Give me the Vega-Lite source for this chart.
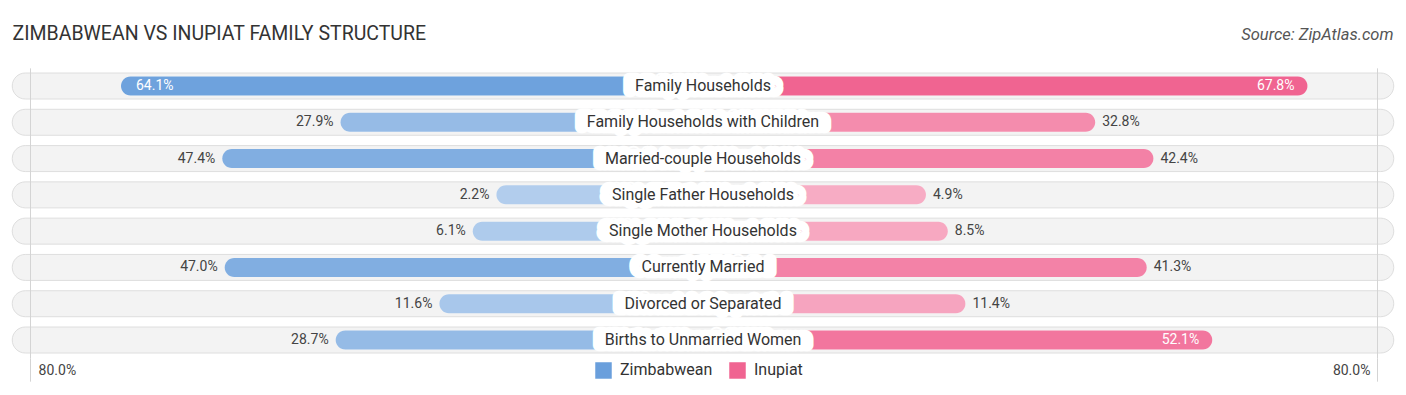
{
  "$schema": "https://vega.github.io/schema/vega-lite/v6.json",
  "width": 1406,
  "height": 290.29,
  "autosize": {"type": "none"},
  "padding": {"left": 0, "right": 0, "top": 67.86, "bottom": 36.85},
  "background": "white",
  "config": {"view": {"stroke": null}, "font": "Roboto"},
  "data": {
    "values": [
      {"cat": "Family Households", "group": "Zimbabwean", "value": 0.641},
      {"cat": "Family Households", "group": "Inupiat", "value": 0.678},
      {"cat": "Family Households with Children", "group": "Zimbabwean", "value": 0.279},
      {"cat": "Family Households with Children", "group": "Inupiat", "value": 0.328},
      {"cat": "Married-couple Households", "group": "Zimbabwean", "value": 0.474},
      {"cat": "Married-couple Households", "group": "Inupiat", "value": 0.424},
      {"cat": "Single Father Households", "group": "Zimbabwean", "value": 0.022},
      {"cat": "Single Father Households", "group": "Inupiat", "value": 0.049},
      {"cat": "Single Mother Households", "group": "Zimbabwean", "value": 0.061},
      {"cat": "Single Mother Households", "group": "Inupiat", "value": 0.085},
      {"cat": "Currently Married", "group": "Zimbabwean", "value": 0.47},
      {"cat": "Currently Married", "group": "Inupiat", "value": 0.413},
      {"cat": "Divorced or Separated", "group": "Zimbabwean", "value": 0.116},
      {"cat": "Divorced or Separated", "group": "Inupiat", "value": 0.114},
      {"cat": "Births to Unmarried Women", "group": "Zimbabwean", "value": 0.287},
      {"cat": "Births to Unmarried Women", "group": "Inupiat", "value": 0.521}
    ]
  },
  "encoding": {
    "y": {
      "field": "cat",
      "type": "nominal",
      "sort": null,
      "scale": {
        "domain": ["Family Households", "Family Households with Children", "Married-couple Households", "Single Father Households", "Single Mother Households", "Currently Married", "Divorced or Separated", "Births to Unmarried Women"],
        "paddingInner": 0,
        "paddingOuter": 0
      },
      "axis": null
    }
  },
  "layer": [
    {
      "transform": [{"filter": "datum.group === 'Zimbabwean'"}],
      "mark": {"type": "bar", "size": 26, "cornerRadius": 13, "fill": "#f3f3f3", "stroke": "#dedede", "strokeWidth": 1},
      "encoding": {
        "x": {
          "datum": -1.139,
          "type": "quantitative",
          "scale": {"domain": [-1.1592, 1.1592], "nice": false, "zero": false},
          "axis": {
            "orient": "bottom",
            "values": [-1.1096, 1.1113],
            "labelExpr": "'80.0%'",
            "grid": true,
            "gridColor": "#d4d4d4",
            "gridWidth": 1,
            "ticks": true,
            "tickSize": 23,
            "tickColor": "#d4d4d4",
            "domain": false,
            "labelFont": "Roboto",
            "labelFontSize": 14,
            "labelColor": "#444",
            "labelAlign": {"condition": {"test": "datum.value < 0", "value": "left"}, "value": "right"},
            "labelOffset": {"condition": {"test": "datum.value < 0", "value": 8}, "value": -7},
            "labelPadding": -18,
            "labelBaseline": "top",
            "labelFlush": false,
            "labelOverlap": false,
            "title": null,
            "zindex": 1
          }
        },
        "x2": {"datum": 1.139}
      }
    },
    {
      "transform": [{"filter": "datum.group === 'Zimbabwean'"}],
      "mark": {"type": "bar", "size": 19, "cornerRadius": 9.5, "color": "white"},
      "encoding": {
        "x": {"field": "value", "type": "quantitative", "scale": {"domain": [-1.47774, 0.84048], "reverse": true, "nice": false, "zero": false}, "axis": null},
        "x2": {"datum": -0.31863}
      }
    },
    {
      "transform": [{"filter": "datum.group === 'Inupiat'"}],
      "mark": {"type": "bar", "size": 19, "cornerRadius": 9.5, "color": "white"},
      "encoding": {
        "x": {"field": "value", "type": "quantitative", "scale": {"domain": [-1.47774, 0.84048], "nice": false, "zero": false}, "axis": null},
        "x2": {"datum": -0.31863}
      }
    },
    {
      "transform": [{"filter": "datum.group === 'Zimbabwean'"}],
      "mark": {"type": "bar", "size": 19, "cornerRadius": 9.5},
      "encoding": {
        "x": {"field": "value", "type": "quantitative", "scale": {"domain": [-1.47774, 0.84048], "reverse": true, "nice": false, "zero": false}, "axis": null},
        "x2": {"datum": -0.31863},
        "color": {
          "field": "group",
          "type": "nominal",
          "scale": {"domain": ["Zimbabwean", "Inupiat"], "range": ["#6a9fdc", "#f06491"]},
          "legend": {"orient": "none", "legendX": 595, "legendY": 294, "direction": "horizontal", "title": null, "symbolType": "square", "symbolSize": 272, "symbolStrokeWidth": 0, "symbolOpacity": 1, "labelFont": "Roboto", "labelFontSize": 16, "labelColor": "#333", "columnPadding": 16, "labelOffset": 8, "padding": 0}
        },
        "opacity": {"field": "value", "type": "quantitative", "scale": {"domain": [0, 0.68], "range": [0.5, 1]}, "legend": null}
      }
    },
    {
      "transform": [{"filter": "datum.group === 'Inupiat'"}],
      "mark": {"type": "bar", "size": 19, "cornerRadius": 9.5},
      "encoding": {
        "x": {"field": "value", "type": "quantitative", "scale": {"domain": [-1.47774, 0.84048], "nice": false, "zero": false}, "axis": null},
        "x2": {"datum": -0.31863},
        "color": {
          "field": "group",
          "type": "nominal",
          "scale": {"domain": ["Zimbabwean", "Inupiat"], "range": ["#6a9fdc", "#f06491"]},
          "legend": {"orient": "none", "legendX": 595, "legendY": 294, "direction": "horizontal", "title": null, "symbolType": "square", "symbolSize": 272, "symbolStrokeWidth": 0, "symbolOpacity": 1, "labelFont": "Roboto", "labelFontSize": 16, "labelColor": "#333", "columnPadding": 16, "labelOffset": 8, "padding": 0}
        },
        "opacity": {"field": "value", "type": "quantitative", "scale": {"domain": [0, 0.68], "range": [0.5, 1]}, "legend": null}
      }
    },
    {
      "transform": [{"filter": "datum.group === 'Zimbabwean' && datum.value <= 0.5"}],
      "mark": {"type": "text", "align": "right", "baseline": "middle", "dx": -7, "fontSize": 14, "font": "Roboto", "color": "#444"},
      "encoding": {
        "x": {"field": "value", "type": "quantitative", "scale": {"domain": [-1.47774, 0.84048], "reverse": true, "nice": false, "zero": false}, "axis": null},
        "text": {"field": "value", "type": "quantitative", "format": ".1%"}
      }
    },
    {
      "transform": [{"filter": "datum.group === 'Zimbabwean' && datum.value > 0.5"}],
      "mark": {"type": "text", "align": "left", "baseline": "middle", "dx": 15, "fontSize": 14, "font": "Roboto", "color": "white"},
      "encoding": {
        "x": {"field": "value", "type": "quantitative", "scale": {"domain": [-1.47774, 0.84048], "reverse": true, "nice": false, "zero": false}, "axis": null},
        "text": {"field": "value", "type": "quantitative", "format": ".1%"}
      }
    },
    {
      "transform": [{"filter": "datum.group === 'Inupiat' && datum.value <= 0.5"}],
      "mark": {"type": "text", "align": "left", "baseline": "middle", "dx": 7, "fontSize": 14, "font": "Roboto", "color": "#444"},
      "encoding": {
        "x": {"field": "value", "type": "quantitative", "scale": {"domain": [-1.47774, 0.84048], "nice": false, "zero": false}, "axis": null},
        "text": {"field": "value", "type": "quantitative", "format": ".1%"}
      }
    },
    {
      "transform": [{"filter": "datum.group === 'Inupiat' && datum.value > 0.5"}],
      "mark": {"type": "text", "align": "right", "baseline": "middle", "dx": -13, "fontSize": 14, "font": "Roboto", "color": "white"},
      "encoding": {
        "x": {"field": "value", "type": "quantitative", "scale": {"domain": [-1.47774, 0.84048], "nice": false, "zero": false}, "axis": null},
        "text": {"field": "value", "type": "quantitative", "format": ".1%"}
      }
    },
    {
      "transform": [{"filter": "datum.group === 'Zimbabwean'"}],
      "mark": {"type": "text", "align": "center", "baseline": "middle", "dx": -7, "fontSize": 16, "font": "Roboto", "fill": "white", "stroke": "white", "strokeWidth": 12.5, "strokeJoin": "round", "strokeCap": "round", "aria": false},
      "encoding": {
        "x": {"datum": 0, "type": "quantitative", "scale": {"domain": [-1.1592, 1.1592], "nice": false, "zero": false}, "axis": null},
        "text": {"field": "cat"}
      }
    },
    {
      "transform": [{"filter": "datum.group === 'Zimbabwean'"}],
      "mark": {"type": "text", "align": "center", "baseline": "middle", "dx": 7, "fontSize": 16, "font": "Roboto", "fill": "white", "stroke": "white", "strokeWidth": 12.5, "strokeJoin": "round", "strokeCap": "round", "aria": false},
      "encoding": {
        "x": {"datum": 0, "type": "quantitative", "scale": {"domain": [-1.1592, 1.1592], "nice": false, "zero": false}, "axis": null},
        "text": {"field": "cat"}
      }
    },
    {
      "transform": [{"filter": "datum.group === 'Zimbabwean'"}],
      "mark": {"type": "text", "align": "center", "baseline": "middle", "fontSize": 16, "font": "Roboto", "color": "#333"},
      "encoding": {
        "x": {
          "datum": 0,
          "type": "quantitative",
          "scale": {"domain": [-1.1592, 1.1592], "nice": false, "zero": false},
          "axis": {
            "orient": "top",
            "values": [1.1377],
            "labelExpr": "'Source: ZipAtlas.com'",
            "labelAlign": "right",
            "labelBaseline": "alphabetic",
            "labelPadding": 28,
            "labelFont": "Roboto",
            "labelFontStyle": "italic",
            "labelFontSize": 16.5,
            "labelColor": "#555",
            "labelFlush": false,
            "labelOverlap": false,
            "ticks": false,
            "domain": false,
            "grid": false,
            "title": "ZIMBABWEAN VS INUPIAT FAMILY STRUCTURE",
            "titleFont": "Roboto",
            "titleFontSize": 19.5,
            "titleFontWeight": "normal",
            "titleColor": "#333",
            "titleAnchor": "start",
            "titleAlign": "left",
            "titleBaseline": "alphabetic",
            "titleAngle": 0,
            "titleX": 12,
            "titleY": -28
          }
        },
        "text": {"field": "cat"}
      }
    }
  ],
  "resolve": {"scale": {"x": "independent"}}
}
